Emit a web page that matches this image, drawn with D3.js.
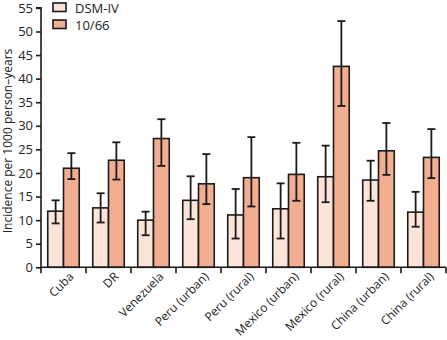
<!DOCTYPE html>
<html lang="en">
<head>
    <meta charset="UTF-8">
    <title>Incidence per 1000 person-years</title>
    <style>
        body { margin: 0; background: #fff; }
        svg { display: block; font-family: "Open Sans", sans-serif; }
    </style>
</head>
<body>
    <div id="chart"></div>
    <script src="https://d3js.org/d3.v7.min.js"></script>
    <script>
        const sites = ["Cuba", "DR", "Venezuela", "Peru (urban)", "Peru (rural)",
                       "Mexico (urban)", "Mexico (rural)", "China (urban)", "China (rural)"];
        const seriesNames = ["DSM-IV", "10/66"];

        // estimate, lower CI, upper CI
        const dsmValues = [11.9, 12.6, 10.0, 14.2, 11.1, 12.4, 19.2, 18.5, 11.7];
        const dsmLow    = [9.3, 9.5, 6.8, 10.2, 6.1, 6.1, 13.8, 14.1, 8.6];
        const dsmHigh   = [14.2, 15.7, 11.8, 19.3, 16.6, 17.8, 25.8, 22.6, 16.0];

        const whoValues = [21.0, 22.7, 27.3, 17.7, 19.0, 19.7, 42.6, 24.7, 23.3];
        const whoLow    = [18.7, 18.6, 21.5, 13.4, 12.9, 14.1, 34.2, 19.6, 18.9];
        const whoHigh   = [24.2, 26.5, 31.4, 24.0, 27.6, 26.4, 52.2, 30.6, 29.3];

        const yTicks = d3.range(0, 56, 5);
        const colors = ["#fde4d9", "#f1ae91"];

        const width = 447, height = 340;
        const margin = {top: 8, left: 41, right: 1, bottom: 72};

        const data = sites.map((s, i) => ({
            site: s,
            bars: [
                {name: seriesNames[0], v: dsmValues[i], lo: dsmLow[i], hi: dsmHigh[i]},
                {name: seriesNames[1], v: whoValues[i], lo: whoLow[i], hi: whoHigh[i]}
            ]
        }));

        const svg = d3.select("#chart").append("svg")
            .attr("width", width)
            .attr("height", height);

        const x0 = d3.scaleBand()
            .domain(sites)
            .range([margin.left, width - margin.right]);

        const x1 = d3.scaleBand()
            .domain(seriesNames)
            .range([x0.bandwidth() * 0.15, x0.bandwidth() * 0.85]);

        const y = d3.scaleLinear()
            .domain([0, 55])
            .range([267.3, 7.9]);

        // bars
        const groups = svg.selectAll(".group")
            .data(data)
            .enter().append("g")
            .attr("transform", d => `translate(${x0(d.site)},0)`);

        groups.selectAll("rect")
            .data(d => d.bars)
            .enter().append("rect")
            .attr("x", d => x1(d.name))
            .attr("y", d => y(d.v))
            .attr("width", x1.bandwidth())
            .attr("height", d => y(0) - y(d.v))
            .attr("fill", (d, i) => colors[i])
            .attr("stroke", "#1a1a1a")
            .attr("stroke-width", 1.6);

        // error bars
        const err = groups.selectAll(".err")
            .data(d => d.bars)
            .enter().append("g")
            .attr("stroke", "#1a1a1a")
            .attr("stroke-width", 1.8);

        const cx = d => x1(d.name) + x1.bandwidth() / 2;
        err.append("line")
            .attr("x1", cx).attr("x2", cx)
            .attr("y1", d => y(d.lo)).attr("y2", d => y(d.hi));
        err.append("line")
            .attr("x1", d => cx(d) - 4).attr("x2", d => cx(d) + 4)
            .attr("y1", d => y(d.hi)).attr("y2", d => y(d.hi));
        err.append("line")
            .attr("x1", d => cx(d) - 4).attr("x2", d => cx(d) + 4)
            .attr("y1", d => y(d.lo)).attr("y2", d => y(d.lo));

        // y axis
        const yAxis = svg.append("g")
            .attr("transform", `translate(${margin.left},0)`)
            .call(d3.axisLeft(y).tickValues(yTicks).tickSize(5).tickPadding(3));
        yAxis.selectAll("path, line").attr("stroke", "#1a1a1a").attr("stroke-width", 1.6);
        yAxis.select(".domain").attr("d", `M-5,${y(55)}H0V${y(0)}`);
        yAxis.selectAll("text")
            .attr("font-size", 13)
            .attr("fill", "#222")
            .attr("font-family", "Open Sans, sans-serif");

        // x axis: ticks on band boundaries
        const xAxis = svg.append("g");
        xAxis.append("line")
            .attr("x1", margin.left).attr("x2", width - margin.right)
            .attr("y1", y(0)).attr("y2", y(0))
            .attr("stroke", "#1a1a1a").attr("stroke-width", 1.6);
        xAxis.selectAll(".tick")
            .data(sites)
            .enter().append("line")
            .attr("x1", d => x0(d) + x0.bandwidth())
            .attr("x2", d => x0(d) + x0.bandwidth())
            .attr("y1", y(0)).attr("y2", y(0) + 6)
            .attr("stroke", "#1a1a1a").attr("stroke-width", 1.6);
        xAxis.append("line")
            .attr("x1", margin.left).attr("x2", margin.left)
            .attr("y1", y(0)).attr("y2", y(0) + 6)
            .attr("stroke", "#1a1a1a").attr("stroke-width", 1.6);

        xAxis.selectAll(".label")
            .data(sites)
            .enter().append("text")
            .attr("transform", d => `translate(${x0(d) + x0.bandwidth() / 2 + 11},${y(0) + 10}) rotate(-45)`)
            .attr("text-anchor", "end")
            .attr("font-size", 12)
            .attr("fill", "#222")
            .text(d => d);

        // y title
        svg.append("text")
            .attr("transform", `translate(12,141) rotate(-90)`)
            .attr("text-anchor", "middle")
            .attr("font-size", 12)
            .attr("fill", "#222")
            .text("Incidence per 1000 person\u2013years");

        // legend
        const legend = svg.append("g")
            .attr("transform", "translate(53,3)");
        seriesNames.forEach((name, i) => {
            legend.append("rect")
                .attr("x", 0).attr("y", i * 17)
                .attr("width", 13).attr("height", 8.5)
                .attr("fill", colors[i])
                .attr("stroke", "#1a1a1a").attr("stroke-width", 1.6);
            legend.append("text")
                .attr("x", 22).attr("y", i * 17 + 9.5)
                .attr("font-size", 13)
                .attr("fill", "#222")
                .text(name);
        });
    </script>
</body>
</html>
